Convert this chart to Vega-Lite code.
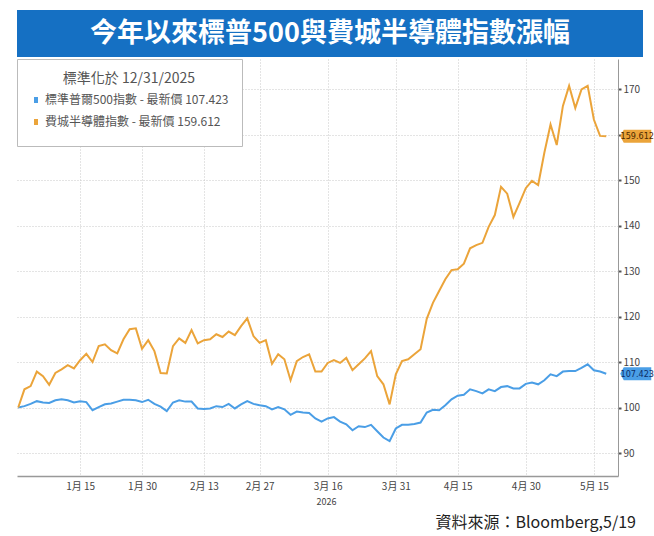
{
  "$schema": "https://vega.github.io/schema/vega-lite/v6.json",
  "padding": {"left": 14, "top": 10, "right": 0, "bottom": 5},
  "spacing": 1,
  "config": {"view": {"stroke": null}, "font": "Noto Sans CJK TC"},
  "resolve": {"scale": {"color": "independent", "fill": "independent"}, "legend": {"color": "independent", "fill": "independent"}},
  "title": {"text": "資料來源：Bloomberg,5/19", "orient": "bottom", "anchor": "end", "fontSize": 16, "fontWeight": "normal", "color": "#222", "offset": 9, "dx": -18},
  "vconcat": [
    {
      "width": 626,
      "height": 47,
      "view": {"fill": "#1570c3", "stroke": null},
      "data": {"values": [{"title": "今年以來標普500與費城半導體指數漲幅"}]},
      "mark": {"type": "text", "color": "white", "fontSize": 27, "fontWeight": "bold", "font": "Noto Sans CJK TC"},
      "encoding": {"text": {"field": "title", "type": "nominal"}}
    },
    {
      "width": 601,
      "height": 417,
      "data": {"values": [
        {"t":0,"spx":100,"sox":100},{"t":1,"spx":100.3,"sox":104.0},{"t":2,"spx":100.8,"sox":104.7},{"t":3,"spx":101.4,"sox":107.9},{"t":4,"spx":101.1,"sox":106.9},{"t":5,"spx":101.0,"sox":105.0},{"t":6,"spx":101.6,"sox":107.6},{"t":7,"spx":101.8,"sox":108.4},{"t":8,"spx":101.6,"sox":109.3},{"t":9,"spx":101.1,"sox":108.6},
        {"t":10,"spx":101.4,"sox":110.4},{"t":11,"spx":101.2,"sox":111.8},{"t":12,"spx":99.4,"sox":110.0},{"t":13,"spx":100.1,"sox":113.5},{"t":14,"spx":100.7,"sox":113.9},{"t":15,"spx":100.9,"sox":112.6},{"t":16,"spx":101.3,"sox":111.9},{"t":17,"spx":101.7,"sox":115.0},{"t":18,"spx":101.7,"sox":117.2},{"t":19,"spx":101.6,"sox":117.4},
        {"t":20,"spx":101.2,"sox":112.9},{"t":21,"spx":101.7,"sox":114.8},{"t":22,"spx":100.8,"sox":112.4},{"t":23,"spx":100.2,"sox":107.6},{"t":24,"spx":99.2,"sox":107.5},{"t":25,"spx":101.1,"sox":113.5},{"t":26,"spx":101.6,"sox":115.2},{"t":27,"spx":101.3,"sox":114.2},{"t":28,"spx":101.3,"sox":117.0},{"t":29,"spx":99.8,"sox":114.1},
        {"t":30,"spx":99.7,"sox":114.8},{"t":31,"spx":99.8,"sox":115.0},{"t":32,"spx":100.3,"sox":116.1},{"t":33,"spx":100.1,"sox":115.5},{"t":34,"spx":100.8,"sox":116.7},{"t":35,"spx":99.8,"sox":115.9},{"t":36,"spx":100.7,"sox":117.9},{"t":37,"spx":101.4,"sox":119.6},{"t":38,"spx":100.8,"sox":115.7},{"t":39,"spx":100.5,"sox":114.2},
        {"t":40,"spx":100.3,"sox":114.8},{"t":41,"spx":99.6,"sox":109.6},{"t":42,"spx":100.1,"sox":111.7},{"t":43,"spx":99.6,"sox":110.6},{"t":44,"spx":98.4,"sox":106.0},{"t":45,"spx":99.1,"sox":110.2},{"t":46,"spx":98.9,"sox":111.1},{"t":47,"spx":98.8,"sox":111.7},{"t":48,"spx":97.6,"sox":107.9},{"t":49,"spx":96.9,"sox":107.9},
        {"t":50,"spx":97.6,"sox":109.8},{"t":51,"spx":97.9,"sox":110.4},{"t":52,"spx":96.9,"sox":109.8},{"t":53,"spx":96.3,"sox":110.9},{"t":54,"spx":95.0,"sox":108.2},{"t":55,"spx":95.9,"sox":109.5},{"t":56,"spx":95.7,"sox":110.8},{"t":57,"spx":96.2,"sox":112.4},{"t":58,"spx":94.8,"sox":106.9},{"t":59,"spx":93.4,"sox":105.1},
        {"t":60,"spx":92.6,"sox":100.7},{"t":61,"spx":95.4,"sox":107.3},{"t":62,"spx":96.2,"sox":110.2},{"t":63,"spx":96.2,"sox":110.6},{"t":64,"spx":96.4,"sox":111.7},{"t":65,"spx":96.7,"sox":112.8},{"t":66,"spx":98.9,"sox":119.5},{"t":67,"spx":99.5,"sox":123.0},{"t":68,"spx":99.4,"sox":125.6},{"t":69,"spx":100.5,"sox":128.2},
        {"t":70,"spx":101.8,"sox":130.2},{"t":71,"spx":102.6,"sox":130.4},{"t":72,"spx":102.8,"sox":131.6},{"t":73,"spx":104.0,"sox":135.0},{"t":74,"spx":103.6,"sox":135.7},{"t":75,"spx":103.1,"sox":136.2},{"t":76,"spx":104.0,"sox":139.7},{"t":77,"spx":103.6,"sox":142.3},{"t":78,"spx":104.5,"sox":148.5},{"t":79,"spx":104.7,"sox":147.0},
        {"t":80,"spx":104.2,"sox":141.9},{"t":81,"spx":104.2,"sox":145.0},{"t":82,"spx":105.2,"sox":148.2},{"t":83,"spx":105.5,"sox":149.8},{"t":84,"spx":105.1,"sox":148.9},{"t":85,"spx":106.0,"sox":156.0},{"t":86,"spx":107.3,"sox":162.2},{"t":87,"spx":106.9,"sox":157.7},{"t":88,"spx":107.9,"sox":166.3},{"t":89,"spx":108.0,"sox":170.7},
        {"t":90,"spx":108.0,"sox":165.8},{"t":91,"spx":108.7,"sox":169.9},{"t":92,"spx":109.5,"sox":170.7},{"t":93,"spx":108.2,"sox":163.3},{"t":94,"spx":107.9,"sox":159.7},{"t":95,"spx":107.423,"sox":159.612}
      ]},
      "transform": [{"fold": ["spx", "sox"], "as": ["s", "v"]}],
      "encoding": {
        "x": {
          "field": "t", "type": "quantitative",
          "scale": {"domain": [-0.2, 96.9], "nice": false, "zero": false},
          "axis": {
            "values": [10, 20, 30, 39, 50, 61, 71, 82, 93],
            "labelExpr": "datum.value==10?'1月 15':datum.value==20?'1月 30':datum.value==30?'2月 13':datum.value==39?'2月 27':datum.value==50?'3月 16':datum.value==61?'3月 31':datum.value==71?'4月 15':datum.value==82?'4月 30':'5月 15'",
            "grid": true, "gridDash": [1, 2], "gridColor": "#c8c8c8",
            "ticks": false, "domainColor": "#999", "domainWidth": 1.5,
            "labelFontSize": 10, "labelColor": "#444", "labelPadding": 5,
            "title": "2026", "titleFontSize": 9, "titleFontWeight": "normal", "titleColor": "#444",
            "titleX": 309, "titleY": 25, "titleBaseline": "middle", "titleAlign": "center",
            "zindex": 0
          }
        },
        "y": {
          "field": "v", "type": "quantitative",
          "scale": {"domain": [84.95, 176.6], "nice": false, "zero": false},
          "axis": {
            "orient": "right",
            "values": [90, 100, 110, 120, 130, 140, 150, 160, 170],
            "labelExpr": "datum.value==160?'':datum.label",
            "grid": true, "gridDash": [1, 2], "gridColor": "#c8c8c8",
            "tickSize": 3, "tickColor": "#555", "tickWidth": 2,
            "domainColor": "#999",
            "labelFontSize": 10, "labelColor": "#444", "labelPadding": 2,
            "title": null, "zindex": 0
          }
        }
      },
      "layer": [
        {
          "mark": {"type": "line", "strokeWidth": 2},
          "encoding": {
            "color": {
              "field": "s", "type": "nominal",
              "scale": {"domain": ["spx", "sox"], "range": ["#4a9ee6", "#eba43a"]},
              "legend": {
                "orient": "top-left", "offset": 0,
                "title": "標準化於 12/31/2025", "titleAnchor": "middle",
                "titleFontSize": 14, "titleFontWeight": "normal", "titleColor": "#555", "titlePadding": 8,
                "labelExpr": "datum.value=='spx'?'標準普爾500指數 - 最新價 107.423':'費城半導體指數 - 最新價  159.612'",
                "labelFontSize": 12, "labelColor": "#555", "labelLimit": 400, "labelOffset": 3,
                "symbolType": "M0,-1L0,1", "symbolSize": 36, "symbolStrokeWidth": 4,
                "strokeColor": "#bbb", "fillColor": "white", "padding": 13, "rowPadding": 0
              }
            }
          }
        },
        {
          "transform": [{"filter": "datum.t == 95"}],
          "mark": {"type": "point", "shape": "M1.4,0L1.75,-0.65L4.5,-0.65L4.5,0.65L1.75,0.65Z", "filled": true, "size": 400, "opacity": 1},
          "encoding": {
            "color": {"field": "s", "type": "nominal", "legend": null}
          }
        },
        {
          "transform": [{"filter": "datum.t == 95"}],
          "mark": {"type": "text", "dx": 31, "fontSize": 9, "align": "center", "baseline": "middle", "font": "Liberation Sans Narrow, DejaVu Sans Condensed, Liberation Sans"},
          "encoding": {
            "text": {"field": "v", "type": "quantitative", "format": ".3f"},
            "fill": {"field": "s", "type": "nominal", "scale": {"domain": ["spx", "sox"], "range": ["#0c2d66", "#4d2a00"]}, "legend": null}
          }
        }
      ]
    }
  ]
}
